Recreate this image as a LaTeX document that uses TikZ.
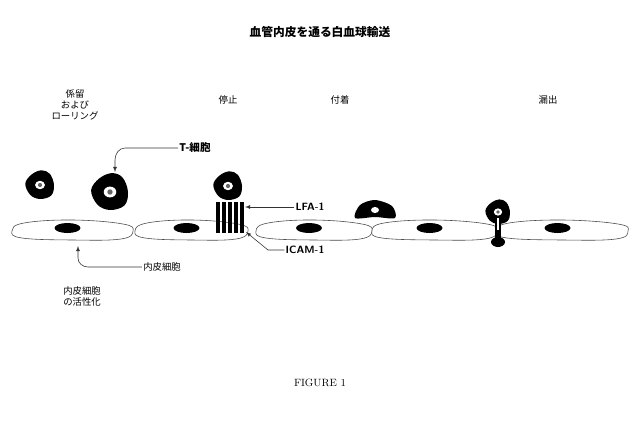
\documentclass[tikz,border=0pt]{standalone}
\usepackage{fontspec}
\newfontfamily\jp{Noto Sans CJK JP}
\usetikzlibrary{positioning}
\tikzset{
  lbl/.style={font=\jp\footnotesize, align=center, inner sep=1pt},
  endo/.style={draw=black!70, fill=white, line width=0.5pt},
  nucl/.style={fill=black},
  blob/.style={fill=black},
  arr/.style={-latex, line width=0.5pt, black!80},
}
\newcommand{\tcell}[3]{% x y r
  \fill[blob] plot[smooth cycle, tension=0.6] coordinates {
    (#1+#3,#2) (#1+0.7*#3,#2-0.8*#3) (#1+0.1*#3,#2-1.05*#3) (#1-0.6*#3,#2-0.75*#3)
    (#1-1.05*#3,#2-0.1*#3) (#1-0.7*#3,#2+0.7*#3) (#1,#2+#3) (#1+0.8*#3,#2+0.75*#3)};
  \fill[white] (#1,#2) ellipse ({0.35*#3} and {0.3*#3});
  \fill[black!60] (#1,#2) circle ({0.15*#3});
}
\begin{document}
\begin{tikzpicture}[x=0.03cm,y=-0.03cm]
  \useasboundingbox (0,0) rectangle (638,441);
  % title
  \node[font=\jp\bfseries] (title) at (320,32) {血管内皮を通る白血球輸送};
  % stages
  \node[lbl] (s1) at (75,105) {係留\\および\\ローリング};
  \node[lbl] (s2) at (228,100) {停止};
  \node[lbl] (s3) at (340,100) {付着};
  \node[lbl] (s4) at (548,100) {漏出};
  % endothelium
  \foreach \a/\b in {12/133,135/248,256/372,372/497,497/628}{
    \draw[endo] plot[smooth cycle, tension=0.7] coordinates {
      (\a,231) (\a+12,223) ({(\a+\b)/2},220) (\b-10,224) (\b,231) (\b-12,239) ({(\a+\b)/2},240) (\a+10,238)};
    \fill[nucl] ({(\a+\b)/2-5},228) ellipse (13 and 5);
  }
  % T cells
  \tcell{40}{185}{14}
  \tcell{110}{192}{18}
  \tcell{228}{186}{14}
  \foreach \xx in {216,222,228,234,240}
    \fill (\xx,202) rectangle (\xx+4,233);
  \fill[white] (221,205) rectangle (222,220);
  \fill[white] (233,205) rectangle (234,220);
  \fill[blob] plot[smooth cycle] coordinates {(355,218)(360,205)(375,200)(392,206)(395,218)(375,217)};
  \fill[white] (375,210) ellipse (4 and 3);
  \tcell{498}{212}{12}
  \fill (495,220) rectangle (501,238);
  \fill (498,242) ellipse (7 and 5);
  \fill[white] (497,218) rectangle (499,230);
  % labels with arrows
  \node[lbl, font=\jp\small\bfseries] (tc) at (195,148) {T-細胞};
  \coordinate (tcend) at (115,172);
  \draw[arr] (tc.west) -- (125,148) to[out=180,in=90] (115,160) -- (tcend);
  \node[lbl, font=\sffamily\small\bfseries] (lfa) at (310,207) {LFA-1};
  \coordinate (lfaend) at (245,207);
  \draw[arr] (lfa.west) -- (lfaend);
  \node[lbl, font=\sffamily\small\bfseries] (icam) at (305,250) {ICAM-1};
  \coordinate (icamend) at (246,232);
  \draw[arr] (icam.west) -- (268,250) -- (icamend);
  \node[lbl] (ec) at (162,267) {内皮細胞};
  \coordinate (ecend) at (78,246);
  \draw[arr] (ec.west) -- (88,267) to[out=180,in=-90] (78,258) -- (ecend);
  \node[lbl] (act) at (82,296) {内皮細胞\\の活性化};
  \node[font=\rmfamily\small] (fig) at (320,383) {FIGURE 1};
\end{tikzpicture}
\end{document}
